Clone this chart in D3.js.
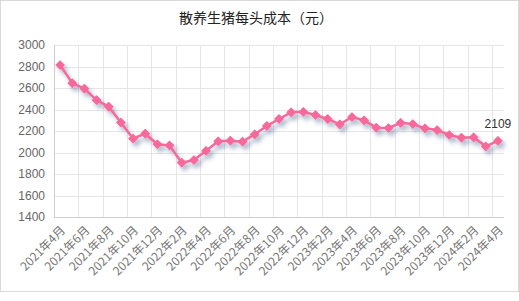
<!DOCTYPE html>
<html>
<head>
<meta charset="utf-8">
<script src="https://cdn.jsdelivr.net/npm/d3@7/dist/d3.min.js"></script>
<style>
  body { margin: 0; background: #fff; }
  svg { display: block; }
</style>
</head>
<body>
<svg id="chart"></svg>
<script>
// monthly cost, 2021-04 .. 2024-04
const months = [];
for (let y = 2021, m = 4; y < 2024 || (y === 2024 && m <= 4); ) {
  months.push(`${y}年${m}月`);
  m++; if (m > 12) { m = 1; y++; }
}
const costs = [
  2814, 2645, 2595, 2488, 2426, 2279, 2130, 2175, 2077, 2066,
  1905, 1930, 2016, 2104, 2110, 2101, 2169, 2247, 2312, 2374,
  2378, 2349, 2312, 2262, 2330, 2299, 2231, 2228, 2276, 2265,
  2225, 2209, 2163, 2138, 2141, 2057, 2109
];
const yTicks = [1400, 1600, 1800, 2000, 2200, 2400, 2600, 2800, 3000];
const title = "散养生猪每头成本（元）";

const width = 519, height = 301;
const margin = { top: 45, right: 15, bottom: 84, left: 54 };
const pink = "#f7699a";

const svg = d3.select("#chart").attr("width", width).attr("height", height);

// outer frame
svg.append("rect")
  .attr("x", 0.5).attr("y", 0.5)
  .attr("width", 518).attr("height", 291)
  .attr("fill", "#fff").attr("stroke", "#d9d9d9");

svg.append("text")
  .attr("x", 256).attr("y", 23)
  .attr("text-anchor", "middle")
  .attr("font-family", "Noto Sans CJK SC")
  .attr("font-size", 14)
  .attr("fill", "#222")
  .text(title);

const x = d3.scaleBand()
  .domain(months)
  .range([margin.left, width - margin.right]);

const y = d3.scaleLinear()
  .domain([1400, 3000])
  .range([height - margin.bottom, margin.top]);

const defs = svg.append("defs");
const shadow = defs.append("filter").attr("id", "shadow")
  .attr("x", "-10%").attr("y", "-10%").attr("width", "130%").attr("height", "140%");
shadow.append("feDropShadow")
  .attr("dx", 3).attr("dy", 4).attr("stdDeviation", 2)
  .attr("flood-color", "#3a4f80").attr("flood-opacity", 0.4);

// horizontal grid
svg.append("g")
  .selectAll("line")
  .data(yTicks.slice(1))
  .join("line")
  .attr("x1", margin.left).attr("x2", width - margin.right)
  .attr("y1", d => Math.round(y(d)) + 0.5).attr("y2", d => Math.round(y(d)) + 0.5)
  .attr("stroke", "#e6e6e6");

// vertical grid every two months
const gridIdx = months.map((d, i) => i).filter(i => i % 2 === 0 && i > 0);
svg.append("g")
  .selectAll("line")
  .data(gridIdx)
  .join("line")
  .attr("x1", i => Math.round(x(months[i])) + 0.5).attr("x2", i => Math.round(x(months[i])) + 0.5)
  .attr("y1", margin.top).attr("y2", height - margin.bottom)
  .attr("stroke", "#e6e6e6");

// axes lines
svg.append("line")
  .attr("x1", margin.left + 0.5).attr("x2", margin.left + 0.5)
  .attr("y1", margin.top).attr("y2", height - margin.bottom)
  .attr("stroke", "#cfcfcf");
svg.append("line")
  .attr("x1", margin.left).attr("x2", width - margin.right)
  .attr("y1", Math.round(y(1400)) + 0.5).attr("y2", Math.round(y(1400)) + 0.5)
  .attr("stroke", "#cfcfcf");

// y labels
svg.append("g")
  .selectAll("text")
  .data(yTicks)
  .join("text")
  .attr("x", margin.left - 9)
  .attr("y", d => y(d))
  .attr("dy", "0.35em")
  .attr("text-anchor", "end")
  .attr("font-family", "Liberation Sans, Arial, sans-serif")
  .attr("font-size", 12)
  .attr("fill", "#666")
  .text(d => d);

// x labels, every other month, rotated
const cx = d => x(d) + x.bandwidth() / 2;
svg.append("g")
  .selectAll("text")
  .data(months.filter((d, i) => i % 2 === 0))
  .join("text")
  .attr("transform", d => `translate(${cx(d) + 3},${y(1400) + 11}) rotate(-45)`)
  .attr("text-anchor", "end")
  .attr("dy", "0.35em")
  .attr("font-family", "Noto Sans CJK SC")
  .attr("font-size", 12)
  .attr("fill", "#777")
  .text(d => d);

// line with shadow
const line = d3.line()
  .x((d, i) => cx(months[i]))
  .y(d => y(d));

const series = svg.append("g").attr("filter", "url(#shadow)");
series.append("path")
  .datum(costs)
  .attr("d", line)
  .attr("fill", "none")
  .attr("stroke", pink)
  .attr("stroke-width", 2.5)
  .attr("stroke-linejoin", "round");

series.selectAll("path.pt")
  .data(costs)
  .join("path")
  .attr("class", "pt")
  .attr("d", d3.symbol(d3.symbolSquare, 36))
  .attr("transform", (d, i) => `translate(${cx(months[i])},${y(d)}) rotate(45)`)
  .attr("fill", pink)
  .attr("stroke", pink)
  .attr("stroke-width", 1)
  .attr("stroke-linejoin", "round");

// last value label
const last = costs.length - 1;
svg.append("text")
  .attr("x", cx(months[last]))
  .attr("y", y(costs[last]) - 13)
  .attr("text-anchor", "middle")
  .attr("font-family", "Liberation Sans, Arial, sans-serif")
  .attr("font-size", 12)
  .attr("fill", "#333")
  .text(costs[last]);
</script>
</body>
</html>
